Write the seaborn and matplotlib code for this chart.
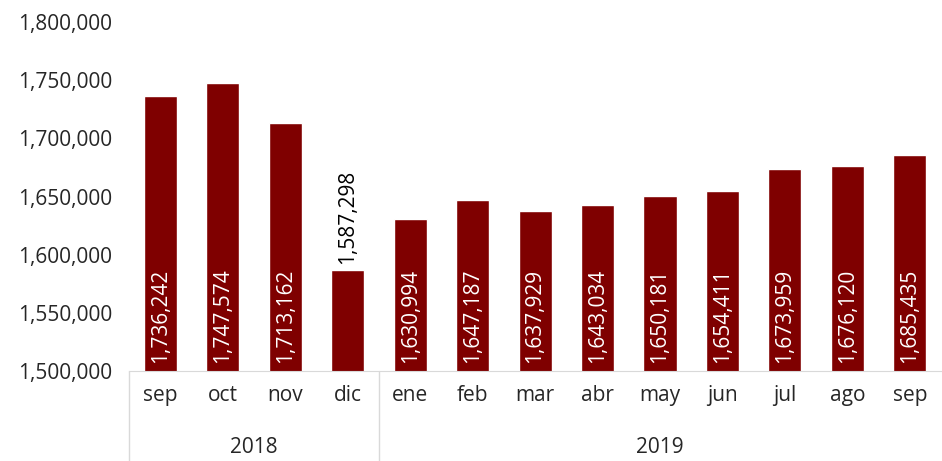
import matplotlib
matplotlib.use("Agg")
import matplotlib.pyplot as plt
import matplotlib.transforms as mtransforms
import seaborn as sns
import pandas as pd

# Datos
meses = ["sep", "oct", "nov", "dic", "ene", "feb", "mar", "abr", "may", "jun", "jul", "ago", "sep"]
anios = ["2018", "2018", "2018", "2018", "2019", "2019", "2019", "2019", "2019", "2019", "2019", "2019", "2019"]
valores = [1736242, 1747574, 1713162, 1587298, 1630994, 1647187, 1637929,
           1643034, 1650181, 1654411, 1673959, 1676120, 1685435]
y_ticks = [1500000, 1550000, 1600000, 1650000, 1700000, 1750000, 1800000]

sns.set_style("white")
plt.rcParams['font.family'] = ['Open Sans', 'DejaVu Sans']
fs = 15

df = pd.DataFrame({"pos": range(len(meses)), "valor": valores})

fig = plt.figure(figsize=(9.42, 4.61), dpi=100)
ax = fig.add_axes([0.137, 0.195, 0.862, 0.757])

sns.barplot(data=df, x="pos", y="valor", color="#7f0000", saturation=1,
            width=0.53, ax=ax)

ax.set_ylim(y_ticks[0], y_ticks[-1])
ax.set_yticks(y_ticks)
ax.set_yticklabels([f"{v:,}" for v in y_ticks], fontsize=fs)
ax.set_xticks(range(len(meses)))
ax.set_xticklabels(meses, fontsize=fs)
ax.tick_params(axis="x", length=0, pad=10)
ax.tick_params(axis="y", length=0, pad=12)
ax.set_xlim(-0.5, len(meses) - 0.5)
ax.set_xlabel("")
ax.set_ylabel("")

for s in ["top", "right", "left"]:
    ax.spines[s].set_visible(False)
ax.spines["bottom"].set_color("#d9d9d9")

# Etiquetas de datos
for i, v in enumerate(valores):
    txt = f"{v:,}"
    if v - y_ticks[0] < 110000:
        ax.text(i, v + 5000, txt, rotation=90, ha="center", va="bottom",
                fontsize=fs, color="black")
    else:
        ax.text(i, y_ticks[0] + 7000, txt, rotation=90, ha="center", va="bottom",
                fontsize=fs, color="white")

# Eje de dos niveles (meses / años)
trans = mtransforms.blended_transform_factory(ax.transData, ax.transAxes)
grupos = []
for i, a in enumerate(anios):
    if not grupos or grupos[-1][0] != a:
        grupos.append([a, i, i])
    else:
        grupos[-1][2] = i
for a, ini, fin in grupos:
    ax.text((ini + fin) / 2, -0.218, a, transform=trans, ha="center", va="center",
            fontsize=fs)
    ax.plot([ini - 0.5, ini - 0.5], [0, -0.26], transform=trans, color="#d9d9d9",
            lw=1, clip_on=False)

fig.savefig("out.png", dpi=100)
